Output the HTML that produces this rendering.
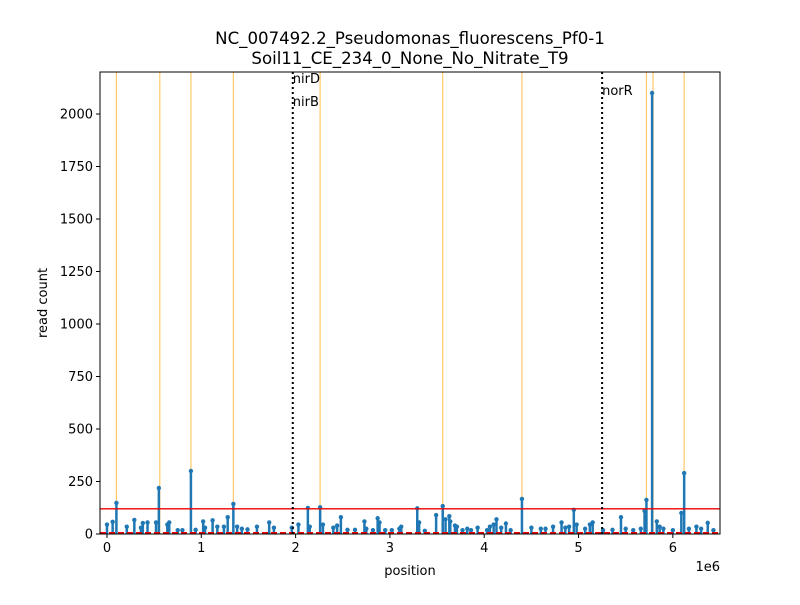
<!DOCTYPE html>
<html><head><meta charset="utf-8"><style>
body{margin:0;background:#fff}
svg text{font-family:"DejaVu Sans","Liberation Sans",sans-serif;fill:#000}
</style></head><body>
<svg id="chart" width="800" height="600" xmlns="http://www.w3.org/2000/svg">
<rect width="800" height="600" fill="#fff"/>
<text x="410" y="44" font-size="16.6" text-anchor="middle">NC_007492.2_Pseudomonas_fluorescens_Pf0-1</text>
<text x="410" y="64" font-size="16.6" text-anchor="middle">Soil11_CE_234_0_None_No_Nitrate_T9</text>
<g id="plot"></g>
<text x="410" y="575" font-size="13" text-anchor="middle">position</text>
<text x="720" y="571" font-size="13" text-anchor="end">1e6</text>
<text transform="translate(47,303) rotate(-90)" font-size="13" text-anchor="middle">read count</text>
</svg>
<script>
const positions=[0.0,0.06,0.1,0.21,0.29,0.36,0.38,0.43,0.52,0.55,0.64,0.66,0.75,0.8,0.89,0.94,1.02,1.04,1.12,1.17,1.24,1.28,1.34,1.38,1.43,1.49,1.59,1.72,1.77,1.96,2.03,2.13,2.15,2.26,2.29,2.40,2.44,2.48,2.55,2.63,2.73,2.75,2.82,2.87,2.89,2.95,3.02,3.10,3.12,3.29,3.31,3.37,3.49,3.56,3.59,3.63,3.64,3.69,3.71,3.77,3.82,3.86,3.93,4.03,4.06,4.10,4.13,4.18,4.23,4.28,4.40,4.50,4.60,4.65,4.73,4.82,4.86,4.90,4.95,4.98,5.07,5.12,5.15,5.26,5.36,5.45,5.50,5.58,5.66,5.70,5.72,5.78,5.83,5.86,5.90,6.00,6.09,6.12,6.17,6.25,6.30,6.37,6.43];
const counts=[45,58,148,35,67,30,52,55,55,219,45,55,18,18,300,20,60,30,65,35,35,80,143,35,25,22,35,55,30,30,45,124,35,127,45,30,40,80,20,20,60,25,18,75,55,18,18,25,35,122,55,15,90,133,70,85,60,40,35,18,25,18,30,18,35,45,70,30,50,18,167,30,25,25,35,55,30,35,115,45,25,45,55,18,20,80,25,18,25,110,162,2100,60,35,25,18,100,290,25,35,25,53,18];
const orangeLines=[0.1,0.56,0.89,1.34,2.26,3.56,4.40,5.72,5.79,6.12];
const geneLines=[1.97,5.25];
const threshold=120;
const xTicks=[0,1,2,3,4,5,6];
const yTicks=[0,250,500,750,1000,1250,1500,1750,2000];
const L=100,R=720,T=72,B=534, xmin=-0.074,xmax=6.5,ymin=0,ymax=2200;
const X=v=>L+(v-xmin)/(xmax-xmin)*(R-L);
const Y=v=>B-(v-ymin)/(ymax-ymin)*(B-T);
const g=document.getElementById('plot');
const NS='http://www.w3.org/2000/svg';
function mk(t,a){const e=document.createElementNS(NS,t);for(const k in a)e.setAttribute(k,a[k]);g.appendChild(e);return e;}
orangeLines.forEach(p=>{const e=mk('line',{x1:X(p),x2:X(p),y1:T,y2:B,stroke:'#ffa500','stroke-opacity':0.6,'stroke-width':1.2});

});
positions.forEach((p,i)=>{const e=mk('line',{x1:X(p),x2:X(p),y1:Y(0),y2:Y(counts[i]),stroke:'#1f77b4','stroke-width':2.5});


const c=mk('circle',{cx:X(p),cy:Y(counts[i]),r:2.2,fill:'#1f77b4'});

});
const bl=mk('line',{x1:L,x2:R,y1:Y(0)-1,y2:Y(0)-1,stroke:'#e00','stroke-width':2,'stroke-dasharray':'6,3'});


const th=mk('line',{x1:L,x2:R,y1:Y(threshold),y2:Y(threshold),stroke:'#e00','stroke-width':1.3});


geneLines.forEach(p=>{const e=mk('line',{x1:X(p),x2:X(p),y1:T,y2:B,stroke:'#000','stroke-width':2,'stroke-dasharray':'2,3'});

});
[['nirD',1.97,83],['nirB',1.97,106],['norR',5.25,95]].forEach(d=>{const t=mk('text',{x:X(d[1]),y:d[2],'font-size':13});t.textContent=d[0];

});
const fr=mk('rect',{x:L,y:T,width:R-L,height:B-T,fill:'none',stroke:'#000','stroke-width':1});


xTicks.forEach(v=>{mk('line',{x1:X(v),x2:X(v),y1:B,y2:B+4,stroke:'#000'});
const t=mk('text',{x:X(v),y:B+18,'font-size':13,'text-anchor':'middle'});t.textContent=v;

});
yTicks.forEach(v=>{mk('line',{x1:L-4,x2:L,y1:Y(v),y2:Y(v),stroke:'#000'});
const t=mk('text',{x:L-7,y:Y(v)+4.5,'font-size':13,'text-anchor':'end'});t.textContent=v;

});
</script>
</body></html>
